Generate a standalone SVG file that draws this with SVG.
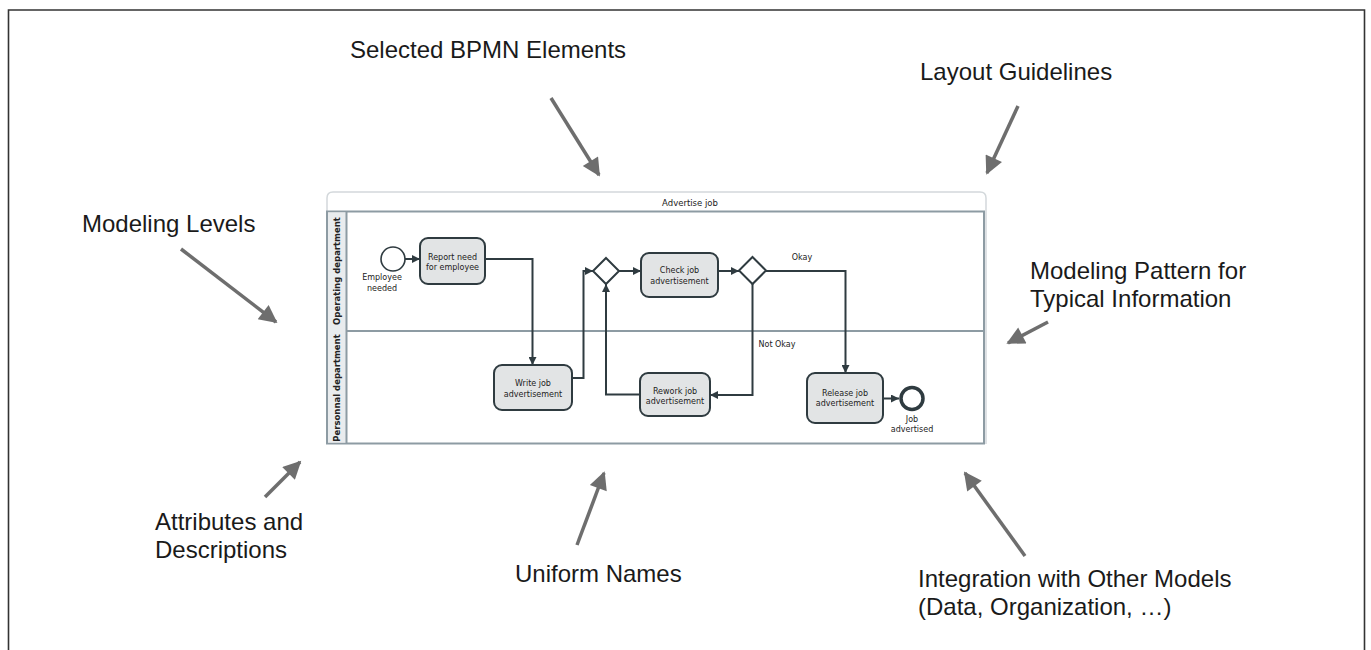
<svg xmlns="http://www.w3.org/2000/svg" width="1371" height="650" viewBox="0 0 1371 650">
  <style>
    .note { font-family: "Liberation Sans", Arial, sans-serif; font-size: 24px; fill: #1a1a1a; }
    .pointer { stroke: #6e6e6e; stroke-width: 3.5; fill: none; marker-end: url(#pointerHead); }
    .bpmn { font-family: "DejaVu Sans", Verdana, sans-serif; font-size: 8px; fill: #222; }
    .pool-title { font-family: "DejaVu Sans", Verdana, sans-serif; font-size: 8.5px; fill: #222; }
    .lane-title { font-family: "DejaVu Sans", Verdana, sans-serif; font-size: 8.5px; font-weight: bold; fill: #222; }
    .task { fill: #e2e4e5; stroke: #2f3b40; stroke-width: 2; }
    .flow { stroke: #2f3b40; stroke-width: 2; fill: none; }
    .flow-arrow { marker-end: url(#flowHead); }
    .gateway { fill: #ffffff; stroke: #2f3b40; stroke-width: 2; }
    .lane { fill: none; stroke: #8d9ba3; stroke-width: 2; }
  </style>
  <defs>
    <marker id="pointerHead" viewBox="0 0 10 10" refX="9" refY="5" markerUnits="userSpaceOnUse" markerWidth="22" markerHeight="18" orient="auto">
      <path d="M0,0 L10,5 L0,10 z" fill="#6e6e6e"/>
    </marker>
    <marker id="flowHead" viewBox="0 0 10 10" refX="10" refY="5" markerUnits="userSpaceOnUse" markerWidth="8" markerHeight="8" orient="auto">
      <path d="M0,0 L10,5 L0,10 z" fill="#2f3b40"/>
    </marker>
  </defs>

  <!-- outer frame (open at the bottom) -->
  <path d="M8.5,650 V10 H1364.5 V650" fill="none" stroke="#333" stroke-width="1.6"/>

  <!-- annotation labels -->
  <g id="note-elements"><text class="note" x="350" y="58">Selected BPMN Elements</text></g>
  <g id="note-layout"><text class="note" x="920" y="80">Layout Guidelines</text></g>
  <g id="note-levels"><text class="note" x="82" y="232">Modeling Levels</text></g>
  <g id="note-pattern"><text class="note" x="1030" y="279">Modeling Pattern for</text><text class="note" x="1030" y="307">Typical Information</text></g>
  <g id="note-attributes"><text class="note" x="155" y="530">Attributes and</text><text class="note" x="155" y="558">Descriptions</text></g>
  <g id="note-names"><text class="note" x="515" y="582">Uniform Names</text></g>
  <g id="note-integration"><text class="note" x="918" y="587">Integration with Other Models</text><text class="note" x="918" y="615">(Data, Organization, …)</text></g>

  <!-- pool -->
  <g id="pool">
    <path d="M327,444 V198 Q327,192 333,192 H980 Q986,192 986,198 V444" fill="#fff" stroke="#d3d8db" stroke-width="1.5"/>
    <text class="pool-title" x="690" y="206" text-anchor="middle">Advertise job</text>
    <rect class="lane" x="327" y="211.5" width="657" height="232"/>
    <line class="lane" x1="327" y1="331" x2="984" y2="331"/>
    <rect x="328" y="212.5" width="18" height="230" fill="#e9ecee"/>
    <line class="lane" x1="346.5" y1="211.5" x2="346.5" y2="443.5" stroke-width="1"/>
    <text class="lane-title" transform="translate(340,271) rotate(-90)" text-anchor="middle">Operating department</text>
    <text class="lane-title" transform="translate(340,388) rotate(-90)" text-anchor="middle">Personnal department</text>
  </g>

  <!-- sequence flows -->
  <g id="flows">
    <line class="flow flow-arrow" x1="405" y1="259" x2="420" y2="259"/>
    <polyline class="flow flow-arrow" points="485,259 532.5,259 532.5,365"/>
    <polyline class="flow flow-arrow" points="572,378 583.5,378 583.5,271 593,271"/>
    <line class="flow flow-arrow" x1="619" y1="271" x2="641" y2="271"/>
    <line class="flow flow-arrow" x1="718" y1="271" x2="739" y2="271"/>
    <polyline class="flow flow-arrow" points="766,271 845.5,271 845.5,373"/>
    <polyline class="flow flow-arrow" points="752.5,284 752.5,395 710,395"/>
    <polyline class="flow flow-arrow" points="640,394.5 606,394.5 606,284"/>
    <line class="flow flow-arrow" x1="883" y1="398.5" x2="899" y2="398.5"/>
    <text class="bpmn" x="802" y="260" text-anchor="middle">Okay</text>
    <text class="bpmn" x="777" y="347" text-anchor="middle">Not Okay</text>
  </g>

  <!-- flow nodes -->
  <g id="start-event">
    <circle cx="393" cy="259" r="12" fill="#fff" stroke="#2f3b40" stroke-width="1.6"/>
    <text class="bpmn" x="382" y="280" text-anchor="middle">Employee</text>
    <text class="bpmn" x="382" y="291" text-anchor="middle">needed</text>
  </g>
  <g id="task-report">
    <rect class="task" x="420" y="238" width="65" height="46" rx="8"/>
    <text class="bpmn" x="452.5" y="259.5" text-anchor="middle">Report need</text>
    <text class="bpmn" x="452.5" y="270" text-anchor="middle">for employee</text>
  </g>
  <g id="task-write">
    <rect class="task" x="494" y="365" width="78" height="45" rx="8"/>
    <text class="bpmn" x="533" y="386" text-anchor="middle">Write job</text>
    <text class="bpmn" x="533" y="396.5" text-anchor="middle">advertisement</text>
  </g>
  <g id="gateway-merge">
    <path class="gateway" d="M606,258 L619,271 L606,284 L593,271 Z"/>
  </g>
  <g id="task-check">
    <rect class="task" x="641" y="253" width="77" height="44" rx="8"/>
    <text class="bpmn" x="679.5" y="273" text-anchor="middle">Check job</text>
    <text class="bpmn" x="679.5" y="283.5" text-anchor="middle">advertisement</text>
  </g>
  <g id="gateway-decision">
    <path class="gateway" d="M752.5,257 L766,270.5 L752.5,284 L739,270.5 Z"/>
  </g>
  <g id="task-rework">
    <rect class="task" x="640" y="373" width="70" height="43" rx="8"/>
    <text class="bpmn" x="675" y="394" text-anchor="middle">Rework job</text>
    <text class="bpmn" x="675" y="404" text-anchor="middle">advertisement</text>
  </g>
  <g id="task-release">
    <rect class="task" x="807" y="373" width="76" height="50" rx="8"/>
    <text class="bpmn" x="845" y="395.5" text-anchor="middle">Release job</text>
    <text class="bpmn" x="845" y="406" text-anchor="middle">advertisement</text>
  </g>
  <g id="end-event">
    <circle cx="912" cy="398.5" r="11" fill="#fff" stroke="#2f3b40" stroke-width="3.5"/>
    <text class="bpmn" x="912" y="421.5" text-anchor="middle">Job</text>
    <text class="bpmn" x="912" y="432" text-anchor="middle">advertised</text>
  </g>

  <!-- annotation pointers -->
  <g id="pointers">
    <line class="pointer" x1="551" y1="98" x2="599" y2="175"/>
    <line class="pointer" x1="1018" y1="106" x2="987" y2="173"/>
    <line class="pointer" x1="181" y1="249" x2="276" y2="322"/>
    <line class="pointer" x1="1048" y1="322" x2="1008" y2="343"/>
    <line class="pointer" x1="265" y1="497" x2="300" y2="462"/>
    <line class="pointer" x1="577" y1="545" x2="604" y2="473"/>
    <line class="pointer" x1="1025" y1="556" x2="965" y2="473"/>
  </g>
</svg>
